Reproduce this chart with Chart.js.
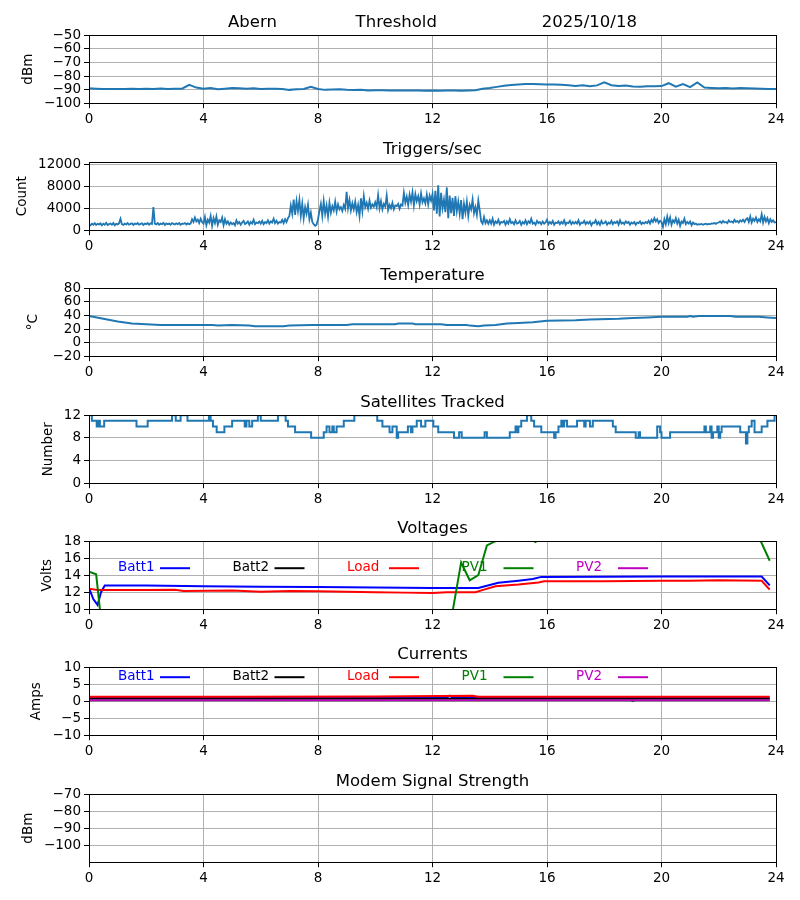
<!DOCTYPE html>
<html>
<head>
<meta charset="utf-8">
<script src="https://cdn.jsdelivr.net/npm/chart.js@4.4.1/dist/chart.umd.min.js"></script>
<style>
  body { margin: 0; background: #fff; width: 800px; height: 900px; position: relative; overflow: hidden; }
  canvas { position: absolute; left: 0; }
</style>
</head>
<body>
<canvas id="thresh" width="800" height="128" style="top:1.8px"></canvas>
<canvas id="trig" width="800" height="128" style="top:128.8px"></canvas>
<canvas id="temp" width="800" height="128" style="top:254.8px"></canvas>
<canvas id="sats" width="800" height="128" style="top:381.8px"></canvas>
<canvas id="volts" width="800" height="128" style="top:507.8px"></canvas>
<canvas id="amps" width="800" height="128" style="top:633.8px"></canvas>
<canvas id="modem" width="800" height="128" style="top:760.8px"></canvas>
<script>
// ---- data (hours 0..24) ----
const HOUR_TICKS = [0, 4, 8, 12, 16, 20, 24];

// threshold, one reading every 15 minutes
const THRESH_STEP = 0.25;
const threshDbm = [
  -89, -89.3, -89.5, -89.6,   -89.5, -89.6, -89.4, -89.5,
  -89.4, -89.5, -89.2, -89.5, -89.4, -89.3, -86.5, -88.5,
  -89.4, -88.8, -89.7, -89.3, -88.8, -89, -89.4, -89,
  -89.6, -89.4, -89.3, -89.5, -90.2, -89.8, -89.5, -88.0,
  -89.6, -90.2, -90, -89.8,   -90.2, -90.3, -90.2, -90.6,
  -90.5, -90.4, -90.7, -90.6, -90.6, -90.7, -90.6, -90.8,
  -90.7, -90.8, -90.6, -90.7, -90.8, -90.6, -90.4, -89.3,
  -88.8, -88, -87.2, -86.6,   -86.2, -85.8, -85.9, -86.1,
  -86.3, -86.2, -86.5, -86.8, -87.3, -86.8, -87.6, -86.9,
  -84.6, -86.8, -87.3, -87.0, -87.7, -87.9, -87.5, -87.6,
  -87.4, -85.3, -87.8, -86,   -88.2, -84.8, -88.5, -88.8,
  -89, -88.8, -89.1, -88.9,   -89, -89.2, -89.4, -89.5,
  -89.6
];

// triggers/sec, one reading every 3 minutes (one row per hour)
const TRIG_STEP = 0.05;
const triggers = [
  1100, 900, 1200, 1000, 1300, 950, 1150, 1050, 1250, 900, 1200, 1000, 1350, 950, 1100, 1200, 1000, 1300, 900, 1150,
  1050, 1250, 2100, 1100, 950, 1200, 1050, 1300, 1000, 1150, 1250, 950, 1200, 1100, 1300, 1000, 1150, 1250, 950, 1200,
  1100, 1300, 1000, 1250, 1150, 4200, 1200, 1050, 1300, 1000, 1200, 1100, 1350, 950, 1250, 1100, 1200, 1000, 1300, 1150,
  1050, 1250, 1100, 1300, 1000, 1200, 1150, 1300, 1050, 1250, 1100, 1200, 2000, 1500, 2300, 1600, 1900, 1300, 2100, 1500,
  1200, 2400, 900, 1900, 1400, 2600, 800, 2200, 1300, 2500, 1000, 1800, 1500, 2300, 900, 2000, 1200, 1600, 1000, 1400,
  1100, 1300, 900, 1800, 1200, 1500, 1000, 1400, 1700, 1100, 1300, 1600, 1000, 1500, 1200, 1900, 1100, 1400, 1300, 1600,
  1200, 1700, 1100, 1500, 1300, 1800, 1200, 1600, 1400, 2100, 1300, 1700, 1200, 1500, 1400, 1900, 1300, 2000, 1500, 2200,
  2600, 4500, 3000, 5600, 2800, 5300, 3500, 5500, 2600, 4800, 2200, 4200, 3000, 4600, 2000, 3200, 1500, 1100, 800, 1000,
  2000, 3500, 4800, 2600, 5300, 3000, 4500, 2500, 5000, 3200, 4400, 3600, 5200, 3400, 4700, 3800, 4200, 3500, 4600, 3900,
  7000, 4000, 5500, 3600, 4900, 3800, 5200, 3300, 4600, 2600, 5800, 3500, 6200, 4200, 5000, 3900, 5400, 4100, 4700, 4300,
  5100, 4200, 6400, 4000, 5300, 3800, 4800, 4300, 6300, 3700, 4600, 4000, 5000, 3800, 4500, 4400, 4800, 3900, 4700, 4500,
  6800, 5000, 6100, 4600, 6500, 5200, 6900, 4500, 6600, 5300, 6200, 4700, 6700, 5100, 5800, 4900, 6500, 4700, 6300, 5400,
  6600, 3600, 7200, 3000, 8200, 2500, 6800, 4000, 5600, 3300, 7800, 2200, 6300, 3100, 5900, 2600, 6200, 3500, 5200, 3000,
  5500, 2000, 4800, 3200, 5200, 2600, 4600, 3800, 5600, 3100, 4200, 2800, 5400, 3600, 1600, 1200, 2400, 1300, 1800, 1200,
  1800, 1200, 2100, 1000, 1600, 1300, 1900, 1100, 1500, 1400, 1700, 1000, 1600, 1200, 2000, 1300, 1500, 1100, 1800, 1200,
  1300, 1700, 1000, 1500, 1200, 1800, 1100, 1600, 1300, 2100, 1200, 1400, 1000, 1700, 1300, 1500, 1100, 1600, 1200, 1400,
  1900, 1100, 1500, 1200, 1700, 1000, 1400, 1300, 1600, 1100, 1500, 1200, 1800, 1000, 1400, 1300, 1700, 1100, 1500, 1200,
  1500, 1200, 1800, 1000, 1400, 1300, 1700, 1100, 1500, 1200, 1600, 900, 1400, 1300, 1800, 1100, 1500, 1000, 1700, 1200,
  1300, 1600, 1000, 1400, 1200, 1700, 1100, 1500, 1300, 1600, 1000, 1800, 1200, 1400, 1100, 1600, 1300, 1500, 1000, 1400,
  1200, 1500, 1000, 1400, 1300, 1600, 1100, 1400, 1200, 1500, 1300, 1700, 1200, 1900, 1500, 2200, 1600, 2000, 1300, 1700,
  1500, 600, 2000, 1100, 2500, 1300, 2300, 1000, 1800, 1400, 2200, 1200, 1900, 800, 1600, 1300, 2100, 1100, 1500, 1200,
  1600, 900, 1400, 1100, 1200, 1000, 1100, 1050, 1150, 1000, 1100, 1200, 1050, 1150, 1100, 1250, 1200, 1300, 1150, 1350,
  1400, 1600, 1300, 1700, 1400, 1500, 1300, 1800, 1500, 1600, 1400, 1900, 1500, 1700, 1400, 1800, 1600, 1900, 1500, 2000,
  2200, 1500, 2500, 1400, 2100, 1700, 2300, 1500, 2000, 1600, 2900, 1400, 2400, 1600, 2200, 1300, 2000, 1500, 1800, 1400,
  1500
];

// [hour, degC]
const tempC = [
  [0, 39], [0.5, 35], [1, 31], [1.5, 28], [2, 27], [2.5, 26], [4.3, 26], [4.5, 25],
  [5, 26], [5.6, 25], [5.8, 24], [6.8, 24], [7, 25], [7.8, 26], [9, 26], [9.2, 27],
  [10.7, 27], [10.8, 28], [11.3, 28], [11.4, 27], [12.3, 27], [12.5, 26], [13.2, 26],
  [13.3, 25], [13.6, 24], [13.8, 25], [14.2, 26], [14.6, 28], [15, 29], [15.5, 30],
  [16, 32], [17, 33], [17.5, 34], [18.5, 35], [19, 36], [19.5, 37], [20, 38], [20.9, 38],
  [21, 39], [21.1, 38], [21.3, 39], [22.4, 39], [22.6, 38], [23.4, 38], [23.7, 37], [24, 36]
];

// [hour, satellites] - value holds until next entry
const satsTracked = [
  [0, 12], [0.1, 11], [0.27, 10], [0.33, 11], [0.38, 10], [0.53, 11], [1.66, 10], [2.05, 11],
  [2.9, 12], [3.03, 11], [3.2, 12], [3.44, 11], [4.19, 12], [4.25, 11], [4.33, 10], [4.46, 9],
  [4.73, 10], [5.0, 11], [5.44, 10], [5.5, 11], [5.6, 10], [5.7, 11], [5.9, 12], [6.0, 11],
  [6.6, 12], [6.87, 11], [6.95, 10], [7.2, 9], [7.76, 8], [8.2, 9], [8.3, 10], [8.4, 9],
  [8.5, 10], [8.55, 9], [8.65, 10], [8.9, 11], [9.27, 12], [10.07, 11], [10.25, 10], [10.5, 9],
  [10.6, 10], [10.75, 8], [10.8, 9], [11.14, 10], [11.25, 9], [11.3, 10], [11.45, 11], [11.6, 10],
  [11.75, 11], [12.03, 10], [12.2, 9], [12.75, 8], [12.93, 9], [13.02, 8], [13.82, 9], [13.9, 8],
  [14.7, 9], [14.9, 10], [14.95, 9], [15.0, 10], [15.1, 11], [15.3, 12], [15.45, 11], [15.55, 10],
  [15.8, 9], [16.25, 8], [16.3, 9], [16.4, 10], [16.5, 11], [16.55, 10], [16.6, 11], [16.7, 10],
  [17.05, 11], [17.3, 10], [17.35, 11], [17.5, 10], [17.6, 11], [18.3, 10], [18.4, 9], [19.1, 8],
  [19.2, 9], [19.25, 8], [19.85, 10], [19.95, 9], [20.0, 8], [20.3, 9], [21.5, 10], [21.55, 9],
  [21.7, 10], [21.75, 8], [21.8, 9], [21.95, 10], [22.0, 8], [22.05, 9], [22.1, 10], [22.75, 9],
  [22.95, 7], [23.0, 9], [23.05, 10], [23.15, 11], [23.25, 9], [23.5, 10], [23.7, 11], [23.95, 12],
  [24, 12]
];

// voltages [hour, V]
const vBatt1 = [
  [0, 12.5], [0.15, 11.2], [0.3, 10.5], [0.42, 12.0], [0.55, 12.8], [2, 12.8], [4, 12.7],
  [6, 12.65], [8, 12.6], [10, 12.55], [12, 12.5], [13.6, 12.5], [13.9, 12.75], [14.3, 13.1],
  [15, 13.35], [15.5, 13.55], [15.8, 13.8], [20, 13.85], [23.5, 13.85], [23.78, 12.8]
];
const vBatt2 = [[0, 0], [23.78, 0]];
const vLoad = [
  [0, 12.4], [0.3, 12.25], [2, 12.25], [3, 12.3], [3.3, 12.15], [5, 12.2], [6, 12.05],
  [7, 12.15], [8, 12.1], [10, 12.0], [11, 11.95], [12, 11.9], [12.5, 12.0], [13.5, 12.0],
  [13.8, 12.3], [14.2, 12.7], [15, 12.9], [15.7, 13.15], [15.9, 13.3], [18, 13.3], [20, 13.35],
  [21, 13.35], [22, 13.4], [23.5, 13.35], [23.78, 12.3]
];
const vPV1 = [
  [0, 14.4], [0.25, 14.1], [0.7, 0], [12.2, 0], [13.0, 15.5], [13.3, 13.4], [13.6, 14.0],
  [13.9, 17.5], [14.2, 18], [14.5, 18.3], [15.4, 18.3], [15.6, 17.9], [15.8, 18.5],
  [23.4, 18.5], [23.78, 15.7]
];
const vPV2 = [[0, 0], [23.78, 0]];

// currents [hour, A]
const aBatt1 = [[0, 1.0], [12.5, 1.0], [12.6, 1.6], [12.7, 1.0], [23.78, 1.0]];
const aBatt2 = [[0, 0.7], [23.78, 0.7]];
const aLoad = [[0, 1.3], [5, 1.3], [10, 1.35], [13.4, 1.6], [13.6, 1.3], [23.78, 1.3]];
const aPV1 = [[0, 0.3], [18.9, 0.3], [19, 0.0], [19.1, 0.3], [23.78, 0.3]];
const aPV2 = [[0, 0.3], [23.78, 0.3]];

// modem signal: no readings this day
const modemDbm = [];

const POWER_NAMES = ['Batt1', 'Batt2', 'Load', 'PV1', 'PV2'];
const POWER_COLORS = ['#0000ff', '#000000', '#ff0000', '#008000', '#bf00bf'];

// ---- drawing ----
Chart.defaults.font.family = '"DejaVu Sans", sans-serif';
Chart.defaults.color = '#000';

// box round the plot area, like matplotlib spines, plus a title centred over the axes
Chart.register({
  id: 'frame',
  afterDraw(chart, args, opts) {
    const { ctx, chartArea: a } = chart;
    ctx.save();
    ctx.strokeStyle = '#000';
    ctx.lineWidth = 1;
    ctx.strokeRect(Math.round(a.left) + 0.5, Math.round(a.top) + 0.5,
      Math.round(a.width), Math.round(a.height));
    ctx.font = '16.5px "DejaVu Sans"';
    ctx.fillStyle = '#000';
    ctx.textAlign = 'center';
    ctx.textBaseline = 'middle';
    ctx.fillText(opts.text || '', (a.left + a.right) / 2, a.top - 12);
    ctx.restore();
  }
});

// "label ----" legend row inside the plot
const inlineLegend = {
  id: 'inlineLegend',
  afterDatasetsDraw(chart, args, opts) {
    const { ctx, chartArea } = chart;
    ctx.save();
    ctx.font = '13.5px "DejaVu Sans"';
    ctx.textBaseline = 'middle';
    chart.data.datasets.forEach((ds, i) => {
      const x = chartArea.left + 29 + i * 114.5;
      const y = chartArea.top + opts.y;
      ctx.fillStyle = ds.borderColor;
      ctx.fillText(ds.label, x, y);
      ctx.strokeStyle = ds.borderColor;
      ctx.lineWidth = 2;
      ctx.beginPath();
      ctx.moveTo(x + 42, y + 1);
      ctx.lineTo(x + 72, y + 1);
      ctx.stroke();
    });
    ctx.restore();
  }
};

const fmt = v => String(v).replace('-', '\u2212');

function panel(id, o) {
  const padLeft = o.labelX - 8.1;
  const grid = { color: '#b0b0b0', tickColor: '#000', tickLength: 5, lineWidth: 1 };
  return new Chart(document.getElementById(id), {
    type: 'line',
    data: { datasets: o.datasets },
    options: {
      responsive: false,
      animation: false,
      layout: { padding: { left: padLeft, right: 24, top: 33.2, bottom: 0 } },
      elements: { point: { radius: 0 }, line: { borderWidth: 2, tension: 0 } },
      plugins: {
        legend: { display: false },
        tooltip: { enabled: false },
        title: { display: false },
        frame: { text: o.title },
        inlineLegend: { y: o.legendY }
      },
      scales: {
        x: {
          type: 'linear', min: 0, max: 24,
          afterBuildTicks: s => { s.ticks = HOUR_TICKS.map(v => ({ value: v })); },
          afterFit: s => { s.height = 26.8; },
          grid, border: { display: false },
          ticks: { padding: 3, maxRotation: 0, autoSkip: false, font: { size: 13.5 } }
        },
        y: {
          min: o.yMin, max: o.yMax,
          afterBuildTicks: s => { s.ticks = o.yTicks.map(v => ({ value: v })); },
          afterFit: s => { s.width = 89 - padLeft; },
          grid, border: { display: false },
          title: { display: true, text: o.yLabel, font: { size: 13.5 }, padding: 0 },
          ticks: { padding: 3, autoSkip: false, font: { size: 13.5 }, callback: fmt }
        }
      }
    },
    plugins: o.legendY != null ? [inlineLegend] : []
  });
}

const BLUE = '#1f77b4';
const single = (data, extra) => [Object.assign({ data, borderColor: BLUE }, extra || {})];
const power = series => series.map((data, i) => ({
  label: POWER_NAMES[i], data, borderColor: POWER_COLORS[i], order: series.length - i
}));

panel('thresh', {
  title: 'Abern               Threshold                    2025/10/18',
  yLabel: 'dBm', labelX: 28, yMin: -100, yMax: -50, yTicks: [-50, -60, -70, -80, -90, -100],
  datasets: single(threshDbm.map((v, i) => [i * THRESH_STEP, v]))
});
panel('trig', {
  title: 'Triggers/sec', yLabel: 'Count', labelX: 22,
  yMin: 0, yMax: 12400, yTicks: [0, 4000, 8000, 12000],
  datasets: single(triggers.map((v, i) => [i * TRIG_STEP, v]), { borderWidth: 1.8 })
});
panel('temp', {
  title: 'Temperature', yLabel: '°C', labelX: 33,
  yMin: -20, yMax: 80, yTicks: [-20, 0, 20, 40, 60, 80],
  datasets: single(tempC)
});
panel('sats', {
  title: 'Satellites Tracked', yLabel: 'Number', labelX: 48,
  yMin: 0, yMax: 12, yTicks: [0, 4, 8, 12],
  datasets: single(satsTracked, { stepped: true })
});
panel('volts', {
  title: 'Voltages', yLabel: 'Volts', labelX: 47,
  yMin: 10, yMax: 18, yTicks: [10, 12, 14, 16, 18],
  datasets: power([vBatt1, vBatt2, vLoad, vPV1, vPV2]), legendY: 26
});
panel('amps', {
  title: 'Currents', yLabel: 'Amps', labelX: 36,
  yMin: -10, yMax: 10, yTicks: [-10, -5, 0, 5, 10],
  datasets: power([aBatt1, aBatt2, aLoad, aPV1, aPV2]), legendY: 9
});
panel('modem', {
  title: 'Modem Signal Strength', yLabel: 'dBm', labelX: 28,
  yMin: -110, yMax: -70, yTicks: [-100, -90, -80, -70],
  datasets: single(modemDbm)
});
</script>
</body>
</html>
